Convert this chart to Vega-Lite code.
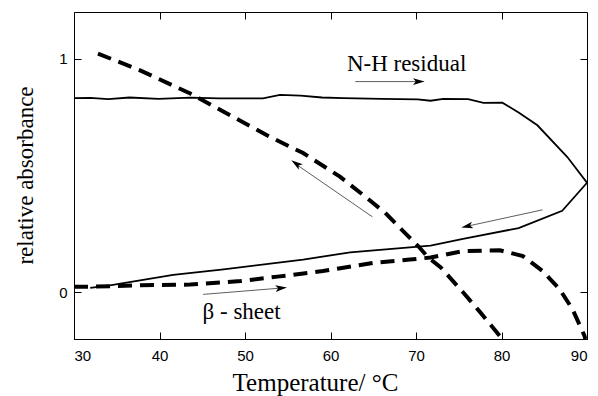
{
  "$schema": "https://vega.github.io/schema/vega-lite/v6.json",
  "width": 513,
  "height": 327,
  "autosize": {"type": "none"},
  "padding": {"left": 74, "top": 12, "right": 11, "bottom": 57},
  "background": "white",
  "config": {
    "view": {"stroke": "black", "strokeWidth": 1},
    "axis": {
      "domainColor": "black",
      "tickColor": "black",
      "labelColor": "black",
      "titleColor": "black",
      "grid": false,
      "labelFont": "Liberation Sans",
      "labelFontSize": 15,
      "titleFont": "Liberation Serif",
      "titleFontSize": 23,
      "titleFontWeight": "normal",
      "tickSize": -7
    }
  },
  "datasets": {
    "curves": [
      {"series": "nh", "ord": 1, "T": 30, "A": 0.831},
      {"series": "nh", "ord": 2, "T": 31.9, "A": 0.832},
      {"series": "nh", "ord": 3, "T": 34, "A": 0.827},
      {"series": "nh", "ord": 4, "T": 36.5, "A": 0.834},
      {"series": "nh", "ord": 5, "T": 39.9, "A": 0.828},
      {"series": "nh", "ord": 6, "T": 43.6, "A": 0.833},
      {"series": "nh", "ord": 7, "T": 47, "A": 0.83},
      {"series": "nh", "ord": 8, "T": 52.1, "A": 0.83},
      {"series": "nh", "ord": 9, "T": 54.1, "A": 0.845},
      {"series": "nh", "ord": 10, "T": 56.5, "A": 0.842},
      {"series": "nh", "ord": 11, "T": 59, "A": 0.834},
      {"series": "nh", "ord": 12, "T": 61.5, "A": 0.831},
      {"series": "nh", "ord": 13, "T": 66, "A": 0.828},
      {"series": "nh", "ord": 14, "T": 70.2, "A": 0.826},
      {"series": "nh", "ord": 15, "T": 71.7, "A": 0.82},
      {"series": "nh", "ord": 16, "T": 73.2, "A": 0.828},
      {"series": "nh", "ord": 17, "T": 76.1, "A": 0.827},
      {"series": "nh", "ord": 18, "T": 77.9, "A": 0.811},
      {"series": "nh", "ord": 19, "T": 80.1, "A": 0.812},
      {"series": "nh", "ord": 20, "T": 82, "A": 0.77},
      {"series": "nh", "ord": 21, "T": 84.2, "A": 0.715},
      {"series": "nh", "ord": 22, "T": 87.7, "A": 0.579},
      {"series": "nh", "ord": 23, "T": 90, "A": 0.469},
      {"series": "nh", "ord": 24, "T": 87.1, "A": 0.349},
      {"series": "nh", "ord": 25, "T": 82, "A": 0.275},
      {"series": "nh", "ord": 26, "T": 75.5, "A": 0.229},
      {"series": "nh", "ord": 27, "T": 71.7, "A": 0.2},
      {"series": "nh", "ord": 28, "T": 62.3, "A": 0.171},
      {"series": "nh", "ord": 29, "T": 56.8, "A": 0.14},
      {"series": "nh", "ord": 30, "T": 47.5, "A": 0.098},
      {"series": "nh", "ord": 31, "T": 41.6, "A": 0.075},
      {"series": "nh", "ord": 32, "T": 34.2, "A": 0.03},
      {"series": "nh", "ord": 33, "T": 31.9, "A": 0.019},
      {"series": "unfold", "ord": 1, "T": 32.8, "A": 1.022},
      {"series": "unfold", "ord": 2, "T": 37.8, "A": 0.949},
      {"series": "unfold", "ord": 3, "T": 43.6, "A": 0.851},
      {"series": "unfold", "ord": 4, "T": 48.3, "A": 0.757},
      {"series": "unfold", "ord": 5, "T": 53, "A": 0.664},
      {"series": "unfold", "ord": 6, "T": 56.8, "A": 0.596},
      {"series": "unfold", "ord": 7, "T": 61.1, "A": 0.495},
      {"series": "unfold", "ord": 8, "T": 63.8, "A": 0.417},
      {"series": "unfold", "ord": 9, "T": 66.4, "A": 0.34},
      {"series": "unfold", "ord": 10, "T": 68.9, "A": 0.247},
      {"series": "unfold", "ord": 11, "T": 70.3, "A": 0.196},
      {"series": "unfold", "ord": 12, "T": 71.4, "A": 0.15},
      {"series": "unfold", "ord": 13, "T": 72.9, "A": 0.106},
      {"series": "unfold", "ord": 14, "T": 75.5, "A": 0.0},
      {"series": "unfold", "ord": 15, "T": 77.5, "A": -0.085},
      {"series": "unfold", "ord": 16, "T": 79.8, "A": -0.187},
      {"series": "unfold", "ord": 17, "T": 80.1, "A": -0.2},
      {"series": "beta", "ord": 1, "T": 30, "A": 0.024},
      {"series": "beta", "ord": 2, "T": 32, "A": 0.024},
      {"series": "beta", "ord": 3, "T": 37.8, "A": 0.03},
      {"series": "beta", "ord": 4, "T": 43.6, "A": 0.033},
      {"series": "beta", "ord": 5, "T": 49.5, "A": 0.048},
      {"series": "beta", "ord": 6, "T": 53.8, "A": 0.067},
      {"series": "beta", "ord": 7, "T": 59.1, "A": 0.091},
      {"series": "beta", "ord": 8, "T": 61.5, "A": 0.105},
      {"series": "beta", "ord": 9, "T": 65, "A": 0.126},
      {"series": "beta", "ord": 10, "T": 69.3, "A": 0.14},
      {"series": "beta", "ord": 11, "T": 71.7, "A": 0.149},
      {"series": "beta", "ord": 12, "T": 75.5, "A": 0.176},
      {"series": "beta", "ord": 13, "T": 79.8, "A": 0.18},
      {"series": "beta", "ord": 14, "T": 82.5, "A": 0.155},
      {"series": "beta", "ord": 15, "T": 84.8, "A": 0.091},
      {"series": "beta", "ord": 16, "T": 86.8, "A": 0.013},
      {"series": "beta", "ord": 17, "T": 88.3, "A": -0.072},
      {"series": "beta", "ord": 18, "T": 89.7, "A": -0.186},
      {"series": "beta", "ord": 19, "T": 89.8, "A": -0.2}
    ],
    "arrows": [
      {"id": "a1", "ord": 1, "T": 62.9, "A": 0.902},
      {"id": "a1", "ord": 2, "T": 70.3, "A": 0.902},
      {"id": "a2", "ord": 1, "T": 64.9, "A": 0.323},
      {"id": "a2", "ord": 2, "T": 56.1, "A": 0.545},
      {"id": "a3", "ord": 1, "T": 84.8, "A": 0.353},
      {"id": "a3", "ord": 2, "T": 76, "A": 0.283},
      {"id": "a4", "ord": 1, "T": 45.1, "A": -0.009},
      {"id": "a4", "ord": 2, "T": 54.2, "A": 0.018}
    ],
    "heads": [
      {"T": 70.3, "A": 0.902, "dir": 90},
      {"T": 56.0, "A": 0.55, "dir": 305},
      {"T": 76.0, "A": 0.283, "dir": 258},
      {"T": 54.2, "A": 0.018, "dir": 85}
    ],
    "labels": [
      {"T": 68.9, "A": 0.949, "text": "N-H residual"},
      {"T": 49.6, "A": -0.115, "text": "β - sheet"}
    ]
  },
  "layer": [
    {
      "encoding": {
        "x": {
          "field": "T",
          "type": "quantitative",
          "scale": {"domain": [30, 90], "nice": false, "zero": false},
          "axis": {
            "values": [30, 40, 50, 60, 70, 80, 90],
            "title": "Temperature/ °C",
            "titleFontSize": 25,
            "labelPadding": 16,
            "titleX": 241,
            "titleY": 51,
            "titleBaseline": "alphabetic",
            "titleAnchor": null,
            "titleAlign": "center"
          }
        },
        "y": {
          "field": "A",
          "type": "quantitative",
          "scale": {"domain": [-0.2, 1.2], "nice": false, "zero": false},
          "axis": {
            "values": [0, 1],
            "format": "d",
            "title": "relative absorbance",
            "labelPadding": 14,
            "titleX": -42,
            "titleY": 163,
            "titleAngle": -90,
            "titleBaseline": "alphabetic",
            "titleAlign": "center",
            "titleAnchor": null
          }
        }
      },
      "layer": [
        {
          "data": {"name": "curves"},
          "transform": [{"filter": "datum.series === 'nh'"}],
          "mark": {"type": "line", "color": "black", "strokeWidth": 1.8},
          "encoding": {"order": {"field": "ord", "type": "quantitative"}}
        },
        {
          "data": {"name": "curves"},
          "transform": [{"filter": "datum.series === 'unfold'"}],
          "mark": {"type": "line", "color": "black", "strokeWidth": 4, "strokeDash": [14, 8]},
          "encoding": {"order": {"field": "ord", "type": "quantitative"}}
        },
        {
          "data": {"name": "curves"},
          "transform": [{"filter": "datum.series === 'beta'"}],
          "mark": {"type": "line", "color": "black", "strokeWidth": 4, "strokeDash": [14, 8]},
          "encoding": {"order": {"field": "ord", "type": "quantitative"}}
        },
        {
          "data": {"name": "arrows"},
          "mark": {"type": "line", "color": "#333", "strokeWidth": 0.8},
          "encoding": {
            "detail": {"field": "id"},
            "order": {"field": "ord", "type": "quantitative"}
          }
        },
        {
          "data": {"name": "heads"},
          "mark": {"type": "point", "shape": "M0,-1L0.55,0.9L0,0.45L-0.55,0.9Z", "filled": true, "fill": "black", "stroke": null, "size": 150, "opacity": 1},
          "encoding": {"angle": {"field": "dir", "type": "quantitative", "scale": null}}
        },
        {
          "data": {"name": "labels"},
          "mark": {"type": "text", "font": "Liberation Serif", "fontSize": 23, "color": "black", "baseline": "alphabetic", "align": "center"},
          "encoding": {"text": {"field": "text"}}
        }
      ]
    },
    {
      "data": {"name": "labels"},
      "mark": {"type": "point", "opacity": 0},
      "encoding": {
        "x": {
          "field": "T",
          "type": "quantitative",
          "axis": {"orient": "top", "values": [40, 50, 60, 70, 80], "labels": false, "title": null, "domain": false}
        },
        "y": {
          "field": "A",
          "type": "quantitative",
          "axis": {"orient": "right", "values": [0, 1], "labels": false, "title": null, "domain": false}
        }
      }
    }
  ],
  "resolve": {"axis": {"x": "independent", "y": "independent"}}
}
